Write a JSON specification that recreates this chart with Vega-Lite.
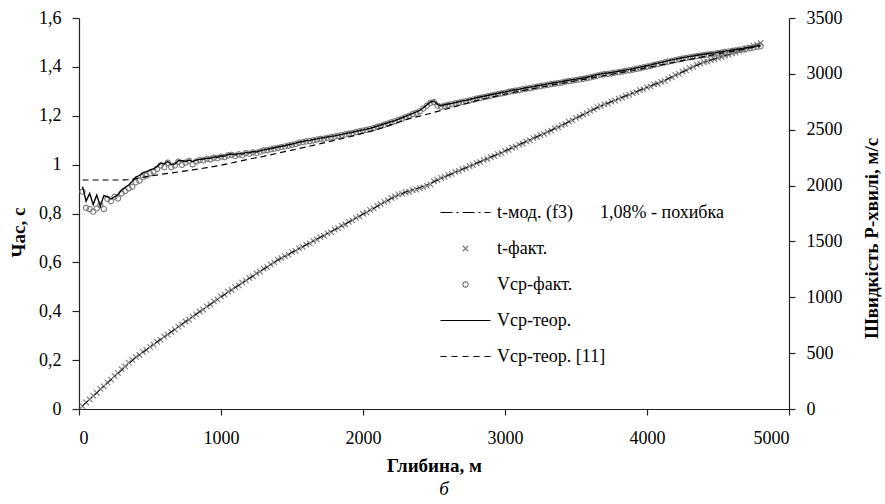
{
  "$schema": "https://vega.github.io/schema/vega-lite/v6.json",
  "width": 710,
  "height": 391,
  "autosize": "none",
  "padding": {"left": 79, "top": 18, "right": 96, "bottom": 95},
  "background": "white",
  "title": {"text": "б", "orient": "bottom", "anchor": "middle", "font": "Liberation Serif, DejaVu Serif, serif", "fontStyle": "italic", "fontWeight": "normal", "fontSize": 19, "color": "#000", "offset": 5, "dx": 10},
  "datasets": {
    "obs": [
      {"d":25,"t":0.012,"v":1945,"vt":1990},{"d":50,"t":0.027,"v":1800,"vt":1860},{"d":75,"t":0.039,"v":1790,"vt":1930},{"d":100,"t":0.055,"v":1766,"vt":1830},
      {"d":125,"t":0.066,"v":1795,"vt":1915},{"d":150,"t":0.082,"v":1826,"vt":1815},{"d":175,"t":0.093,"v":1790,"vt":1910},{"d":200,"t":0.109,"v":1880,"vt":1900},
      {"d":225,"t":0.120,"v":1860,"vt":1880},{"d":250,"t":0.136,"v":1900,"vt":1900},{"d":275,"t":0.147,"v":1885,"vt":1920},{"d":300,"t":0.163,"v":1930,"vt":1960},
      {"d":325,"t":0.174,"v":1950,"vt":1985},{"d":350,"t":0.190,"v":1975,"vt":2005},{"d":375,"t":0.201,"v":1990,"vt":2040},{"d":400,"t":0.213,"v":2030,"vt":2075},
      {"d":425,"t":0.221,"v":2045,"vt":2090},{"d":450,"t":0.234,"v":2075,"vt":2115},{"d":475,"t":0.242,"v":2090,"vt":2125},{"d":500,"t":0.254,"v":2110,"vt":2140},
      {"d":525,"t":0.263,"v":2125,"vt":2150},{"d":550,"t":0.275,"v":2150,"vt":2170},{"d":575,"t":0.283,"v":2180,"vt":2200},{"d":600,"t":0.296,"v":2165,"vt":2195},
      {"d":625,"t":0.304,"v":2205,"vt":2215},{"d":650,"t":0.316,"v":2165,"vt":2190},{"d":675,"t":0.325,"v":2180,"vt":2192},{"d":700,"t":0.337,"v":2215,"vt":2225},
      {"d":725,"t":0.345,"v":2185,"vt":2222},{"d":750,"t":0.358,"v":2205,"vt":2215},{"d":775,"t":0.366,"v":2220,"vt":2228},{"d":800,"t":0.378,"v":2190,"vt":2215},
      {"d":825,"t":0.387,"v":2215,"vt":2228},{"d":850,"t":0.399,"v":2228,"vt":2235},{"d":875,"t":0.407,"v":2225,"vt":2238},{"d":900,"t":0.420,"v":2240,"vt":2246},
      {"d":925,"t":0.428,"v":2235,"vt":2244},{"d":950,"t":0.440,"v":2250,"vt":2257},{"d":975,"t":0.449,"v":2245,"vt":2254},{"d":1000,"t":0.461,"v":2260,"vt":2267},
      {"d":1025,"t":0.468,"v":2255,"vt":2264},{"d":1050,"t":0.480,"v":2270,"vt":2278},{"d":1075,"t":0.487,"v":2275,"vt":2282},{"d":1100,"t":0.499,"v":2265,"vt":2275},
      {"d":1125,"t":0.506,"v":2280,"vt":2288},{"d":1150,"t":0.517,"v":2272,"vt":2282},{"d":1175,"t":0.525,"v":2290,"vt":2297},{"d":1200,"t":0.536,"v":2285,"vt":2293},
      {"d":1225,"t":0.543,"v":2298,"vt":2305},{"d":1250,"t":0.555,"v":2292,"vt":2300},{"d":1275,"t":0.562,"v":2305,"vt":2312},{"d":1300,"t":0.574,"v":2315,"vt":2320},
      {"d":1325,"t":0.581,"v":2318,"vt":2325},{"d":1350,"t":0.592,"v":2325,"vt":2332},{"d":1375,"t":0.600,"v":2330,"vt":2338},{"d":1400,"t":0.611,"v":2338,"vt":2345},
      {"d":1425,"t":0.617,"v":2345,"vt":2352},{"d":1450,"t":0.626,"v":2350,"vt":2357},{"d":1475,"t":0.632,"v":2358,"vt":2365},{"d":1500,"t":0.642,"v":2365,"vt":2372},
      {"d":1525,"t":0.647,"v":2372,"vt":2380},{"d":1550,"t":0.657,"v":2385,"vt":2390},{"d":1575,"t":0.663,"v":2388,"vt":2395},{"d":1600,"t":0.673,"v":2395,"vt":2402},
      {"d":1625,"t":0.678,"v":2398,"vt":2405},{"d":1650,"t":0.688,"v":2405,"vt":2412},{"d":1675,"t":0.694,"v":2412,"vt":2418},{"d":1700,"t":0.703,"v":2418,"vt":2425},
      {"d":1725,"t":0.709,"v":2420,"vt":2428},{"d":1750,"t":0.719,"v":2428,"vt":2435},{"d":1775,"t":0.724,"v":2433,"vt":2440},{"d":1800,"t":0.734,"v":2438,"vt":2445},
      {"d":1825,"t":0.740,"v":2445,"vt":2452},{"d":1850,"t":0.750,"v":2452,"vt":2458},{"d":1875,"t":0.755,"v":2458,"vt":2465},{"d":1900,"t":0.766,"v":2465,"vt":2472},
      {"d":1925,"t":0.772,"v":2470,"vt":2477},{"d":1950,"t":0.782,"v":2478,"vt":2485},{"d":1975,"t":0.788,"v":2485,"vt":2492},{"d":2000,"t":0.799,"v":2492,"vt":2498},
      {"d":2025,"t":0.805,"v":2498,"vt":2505},{"d":2050,"t":0.815,"v":2505,"vt":2512},{"d":2075,"t":0.821,"v":2515,"vt":2522},{"d":2100,"t":0.831,"v":2525,"vt":2532},
      {"d":2125,"t":0.838,"v":2535,"vt":2542},{"d":2150,"t":0.848,"v":2545,"vt":2552},{"d":2175,"t":0.854,"v":2555,"vt":2562},{"d":2200,"t":0.864,"v":2565,"vt":2572},
      {"d":2225,"t":0.870,"v":2575,"vt":2582},{"d":2250,"t":0.878,"v":2588,"vt":2595},{"d":2275,"t":0.880,"v":2600,"vt":2607},{"d":2300,"t":0.887,"v":2612,"vt":2620},
      {"d":2325,"t":0.889,"v":2625,"vt":2632},{"d":2350,"t":0.896,"v":2640,"vt":2647},{"d":2375,"t":0.898,"v":2652,"vt":2660},{"d":2400,"t":0.904,"v":2665,"vt":2672},
      {"d":2425,"t":0.907,"v":2690,"vt":2697},{"d":2450,"t":0.913,"v":2715,"vt":2722},{"d":2475,"t":0.919,"v":2740,"vt":2748},{"d":2500,"t":0.932,"v":2748,"vt":2756},
      {"d":2525,"t":0.938,"v":2715,"vt":2725},{"d":2550,"t":0.946,"v":2705,"vt":2715},{"d":2575,"t":0.950,"v":2715,"vt":2723},{"d":2600,"t":0.958,"v":2722,"vt":2730},
      {"d":2625,"t":0.962,"v":2728,"vt":2736},{"d":2650,"t":0.970,"v":2735,"vt":2743},{"d":2675,"t":0.974,"v":2742,"vt":2750},{"d":2700,"t":0.982,"v":2750,"vt":2758},
      {"d":2725,"t":0.986,"v":2755,"vt":2763},{"d":2750,"t":0.994,"v":2762,"vt":2770},{"d":2775,"t":0.998,"v":2770,"vt":2778},{"d":2800,"t":1.006,"v":2778,"vt":2786},
      {"d":2825,"t":1.010,"v":2785,"vt":2793},{"d":2850,"t":1.018,"v":2792,"vt":2800},{"d":2875,"t":1.023,"v":2798,"vt":2806},{"d":2900,"t":1.031,"v":2805,"vt":2813},
      {"d":2925,"t":1.035,"v":2812,"vt":2820},{"d":2950,"t":1.043,"v":2818,"vt":2826},{"d":2975,"t":1.047,"v":2825,"vt":2833},{"d":3000,"t":1.056,"v":2830,"vt":2838},
      {"d":3025,"t":1.060,"v":2838,"vt":2846},{"d":3050,"t":1.069,"v":2845,"vt":2853},{"d":3075,"t":1.073,"v":2850,"vt":2858},{"d":3100,"t":1.082,"v":2855,"vt":2863},
      {"d":3125,"t":1.086,"v":2862,"vt":2870},{"d":3150,"t":1.095,"v":2868,"vt":2876},{"d":3175,"t":1.099,"v":2873,"vt":2881},{"d":3200,"t":1.108,"v":2878,"vt":2886},
      {"d":3225,"t":1.113,"v":2885,"vt":2893},{"d":3250,"t":1.121,"v":2890,"vt":2898},{"d":3275,"t":1.126,"v":2896,"vt":2904},{"d":3300,"t":1.134,"v":2902,"vt":2910},
      {"d":3325,"t":1.139,"v":2908,"vt":2916},{"d":3350,"t":1.148,"v":2912,"vt":2920},{"d":3375,"t":1.152,"v":2918,"vt":2926},{"d":3400,"t":1.161,"v":2922,"vt":2930},
      {"d":3425,"t":1.166,"v":2930,"vt":2938},{"d":3450,"t":1.176,"v":2935,"vt":2943},{"d":3475,"t":1.181,"v":2940,"vt":2948},{"d":3500,"t":1.191,"v":2945,"vt":2953},
      {"d":3525,"t":1.196,"v":2950,"vt":2958},{"d":3550,"t":1.205,"v":2955,"vt":2963},{"d":3575,"t":1.211,"v":2962,"vt":2970},{"d":3600,"t":1.220,"v":2968,"vt":2976},
      {"d":3625,"t":1.226,"v":2975,"vt":2983},{"d":3650,"t":1.235,"v":2985,"vt":2993},{"d":3675,"t":1.239,"v":2992,"vt":3000},{"d":3700,"t":1.247,"v":2998,"vt":3006},
      {"d":3725,"t":1.250,"v":3000,"vt":3008},{"d":3750,"t":1.258,"v":3005,"vt":3013},{"d":3775,"t":1.262,"v":3010,"vt":3018},{"d":3800,"t":1.270,"v":3015,"vt":3023},
      {"d":3825,"t":1.274,"v":3020,"vt":3028},{"d":3850,"t":1.281,"v":3028,"vt":3036},{"d":3875,"t":1.285,"v":3032,"vt":3040},{"d":3900,"t":1.293,"v":3038,"vt":3046},
      {"d":3925,"t":1.297,"v":3045,"vt":3053},{"d":3950,"t":1.305,"v":3052,"vt":3060},{"d":3975,"t":1.308,"v":3058,"vt":3066},{"d":4000,"t":1.316,"v":3065,"vt":3073},
      {"d":4025,"t":1.320,"v":3072,"vt":3080},{"d":4050,"t":1.328,"v":3080,"vt":3088},{"d":4075,"t":1.331,"v":3088,"vt":3096},{"d":4100,"t":1.339,"v":3095,"vt":3103},
      {"d":4125,"t":1.343,"v":3102,"vt":3110},{"d":4150,"t":1.352,"v":3110,"vt":3118},{"d":4175,"t":1.357,"v":3117,"vt":3125},{"d":4200,"t":1.366,"v":3124,"vt":3132},
      {"d":4225,"t":1.371,"v":3130,"vt":3138},{"d":4250,"t":1.381,"v":3136,"vt":3144},{"d":4275,"t":1.386,"v":3142,"vt":3150},{"d":4300,"t":1.395,"v":3148,"vt":3156},
      {"d":4325,"t":1.400,"v":3152,"vt":3160},{"d":4350,"t":1.409,"v":3158,"vt":3166},{"d":4375,"t":1.413,"v":3163,"vt":3171},{"d":4400,"t":1.419,"v":3168,"vt":3176},
      {"d":4425,"t":1.422,"v":3172,"vt":3180},{"d":4450,"t":1.428,"v":3176,"vt":3184},{"d":4475,"t":1.431,"v":3180,"vt":3188},{"d":4500,"t":1.437,"v":3185,"vt":3193},
      {"d":4525,"t":1.440,"v":3190,"vt":3198},{"d":4550,"t":1.446,"v":3196,"vt":3204},{"d":4575,"t":1.449,"v":3200,"vt":3208},{"d":4600,"t":1.455,"v":3205,"vt":3213},
      {"d":4625,"t":1.458,"v":3210,"vt":3218},{"d":4650,"t":1.466,"v":3215,"vt":3223},{"d":4675,"t":1.469,"v":3220,"vt":3228},{"d":4700,"t":1.477,"v":3226,"vt":3234},
      {"d":4725,"t":1.480,"v":3231,"vt":3239},{"d":4750,"t":1.487,"v":3236,"vt":3244},{"d":4775,"t":1.491,"v":3242,"vt":3250},{"d":4800,"t":1.498,"v":3248,"vt":3255}
    ],
    "model": [
      {"d":25,"tm":0.013,"v11":2050},{"d":100,"tm":0.052,"v11":2050},{"d":200,"tm":0.106,"v11":2050},{"d":300,"tm":0.158,"v11":2050},
      {"d":350,"tm":0.184,"v11":2052},{"d":400,"tm":0.210,"v11":2062},{"d":500,"tm":0.254,"v11":2085},{"d":600,"tm":0.296,"v11":2105},
      {"d":700,"tm":0.337,"v11":2122},{"d":800,"tm":0.378,"v11":2140},{"d":900,"tm":0.418,"v11":2160},{"d":1000,"tm":0.458,"v11":2182},
      {"d":1100,"tm":0.497,"v11":2210},{"d":1200,"tm":0.535,"v11":2238},{"d":1300,"tm":0.572,"v11":2262},{"d":1400,"tm":0.609,"v11":2290},
      {"d":1500,"tm":0.641,"v11":2318},{"d":1600,"tm":0.672,"v11":2345},{"d":1700,"tm":0.703,"v11":2375},{"d":1800,"tm":0.734,"v11":2405},
      {"d":1900,"tm":0.765,"v11":2435},{"d":2000,"tm":0.797,"v11":2468},{"d":2100,"tm":0.829,"v11":2503},{"d":2200,"tm":0.861,"v11":2545},
      {"d":2300,"tm":0.888,"v11":2590},{"d":2400,"tm":0.906,"v11":2622},{"d":2500,"tm":0.930,"v11":2655},{"d":2600,"tm":0.956,"v11":2690},
      {"d":2700,"tm":0.981,"v11":2725},{"d":2800,"tm":1.006,"v11":2760},{"d":2900,"tm":1.031,"v11":2790},{"d":3000,"tm":1.056,"v11":2818},
      {"d":3100,"tm":1.082,"v11":2845},{"d":3200,"tm":1.108,"v11":2868},{"d":3300,"tm":1.134,"v11":2892},{"d":3400,"tm":1.161,"v11":2915},
      {"d":3500,"tm":1.190,"v11":2938},{"d":3600,"tm":1.219,"v11":2960},{"d":3700,"tm":1.246,"v11":2985},{"d":3800,"tm":1.270,"v11":3008},
      {"d":3900,"tm":1.293,"v11":3030},{"d":4000,"tm":1.316,"v11":3055},{"d":4100,"tm":1.339,"v11":3080},{"d":4200,"tm":1.365,"v11":3105},
      {"d":4300,"tm":1.393,"v11":3130},{"d":4400,"tm":1.419,"v11":3154},{"d":4500,"tm":1.437,"v11":3178},{"d":4600,"tm":1.455,"v11":3202},
      {"d":4700,"tm":1.476,"v11":3226},{"d":4800,"tm":1.497,"v11":3250}
    ]
  },
  "layer": [
    {
      "layer": [
        {
          "data": {"name": "obs"},
          "mark": {"type": "point", "filled": false, "size": 625, "strokeWidth": 1.1, "opacity": 1},
          "encoding": {
            "x": {"field": "d", "type": "quantitative", "scale": {"domain": [0, 5000]},
              "axis": {"title": "Глибина, м", "values": [0, 1000, 2000, 3000, 4000, 5000], "format": "d", "tickSize": 6, "labelPadding": 14, "titlePadding": 9}},
            "y": {"field": "t", "type": "quantitative", "scale": {"domain": [0, 1.6]},
              "axis": {"orient": "left", "title": "Час, с", "values": [0, 0.2, 0.4, 0.6, 0.8, 1, 1.2, 1.4, 1.6],
                "labelExpr": "replace(format(datum.value, '~g'), '.', ',')", "tickSize": 7, "labelPadding": 11,
                "titleAngle": 270, "titleX": -61, "titleY": 214, "titleAlign": "center", "titleBaseline": "middle"}},
            "color": {"datum": "t-факт.",
              "scale": {"domain": ["t-мод. (f3)\u00a0\u00a0\u00a0\u00a0\u00a0 1,08% - похибка", "t-факт.", "Vср-факт.", "Vср-теор.", "Vср-теор. [11]"],
                "range": ["#000000", "#7a7a7a", "#7a7a7a", "#000000", "#000000"]},
              "legend": {"orient": "none", "legendX": 373, "legendY": 181, "title": null}},
            "shape": {"datum": "t-факт.",
              "scale": {"domain": ["t-мод. (f3)\u00a0\u00a0\u00a0\u00a0\u00a0 1,08% - похибка", "t-факт.", "Vср-факт.", "Vср-теор.", "Vср-теор. [11]"],
                "range": ["M-2,0H-1.04M-0.72,0H-0.56M-0.24,0H0.72M1.04,0H1.2M1.52,0H2",
                  "M-0.22,-0.22L0.22,0.22M0.22,-0.22L-0.22,0.22",
                  "M0.22,0L0.156,0.156L0,0.22L-0.156,0.156L-0.22,0L-0.156,-0.156L0,-0.22L0.156,-0.156Z",
                  "M-2,0H2",
                  "M-2,0H-1.52M-1.12,0H-0.64M-0.24,0H0.24M0.64,0H1.12M1.52,0H2"]},
              "legend": {"orient": "none", "legendX": 373, "legendY": 181, "title": null}}
          }
        },
        {
          "data": {"name": "model"},
          "mark": {"type": "line", "strokeWidth": 1, "strokeDash": [8, 3, 2, 3]},
          "encoding": {
            "x": {"field": "d", "type": "quantitative"},
            "y": {"field": "tm", "type": "quantitative", "title": "Час, с"},
            "color": {"datum": "t-мод. (f3)\u00a0\u00a0\u00a0\u00a0\u00a0 1,08% - похибка"}
          }
        }
      ]
    },
    {
      "layer": [
        {
          "data": {"name": "obs"},
          "mark": {"type": "point", "filled": false, "size": 625, "strokeWidth": 1.1, "opacity": 1},
          "encoding": {
            "x": {"field": "d", "type": "quantitative"},
            "y": {"field": "v", "type": "quantitative", "scale": {"domain": [0, 3500]},
              "axis": {"orient": "right", "title": "Швидкість P-хвилі, м/с", "values": [0, 500, 1000, 1500, 2000, 2500, 3000, 3500],
                "format": "d", "tickSize": 6, "labelPadding": 11,
                "titleAngle": 270, "titleX": 82, "titleY": 220, "titleAlign": "center", "titleBaseline": "middle"}},
            "color": {"datum": "Vср-факт."},
            "shape": {"datum": "Vср-факт."}
          }
        },
        {
          "data": {"name": "obs"},
          "mark": {"type": "line", "strokeWidth": 1.4},
          "encoding": {
            "x": {"field": "d", "type": "quantitative"},
            "y": {"field": "vt", "type": "quantitative", "title": "Швидкість P-хвилі, м/с"},
            "color": {"datum": "Vср-теор."}
          }
        },
        {
          "data": {"name": "model"},
          "mark": {"type": "line", "strokeWidth": 1.2, "strokeDash": [6, 4]},
          "encoding": {
            "x": {"field": "d", "type": "quantitative"},
            "y": {"field": "v11", "type": "quantitative", "title": "Швидкість P-хвилі, м/с"},
            "color": {"datum": "Vср-теор. [11]"}
          }
        }
      ]
    }
  ],
  "resolve": {"scale": {"y": "independent"}},
  "config": {
    "view": {"stroke": null},
    "axis": {"labelFont": "Liberation Serif, DejaVu Serif, serif", "titleFont": "Liberation Serif, DejaVu Serif, serif", "labelFontSize": 18, "titleFontSize": 19,
      "titleFontWeight": "bold", "grid": false, "domainColor": "#222222", "tickColor": "#222222", "labelColor": "#000000",
      "titleColor": "#000000", "domainWidth": 1.2, "tickWidth": 1.2},
    "legend": {"labelFont": "Liberation Serif, DejaVu Serif, serif", "labelFontSize": 18, "labelColor": "#000000", "symbolSize": 625,
      "symbolStrokeWidth": 1.2, "rowPadding": 13, "labelOffset": 18, "padding": 0, "labelLimit": 400, "symbolFillColor": "transparent"}
  }
}
